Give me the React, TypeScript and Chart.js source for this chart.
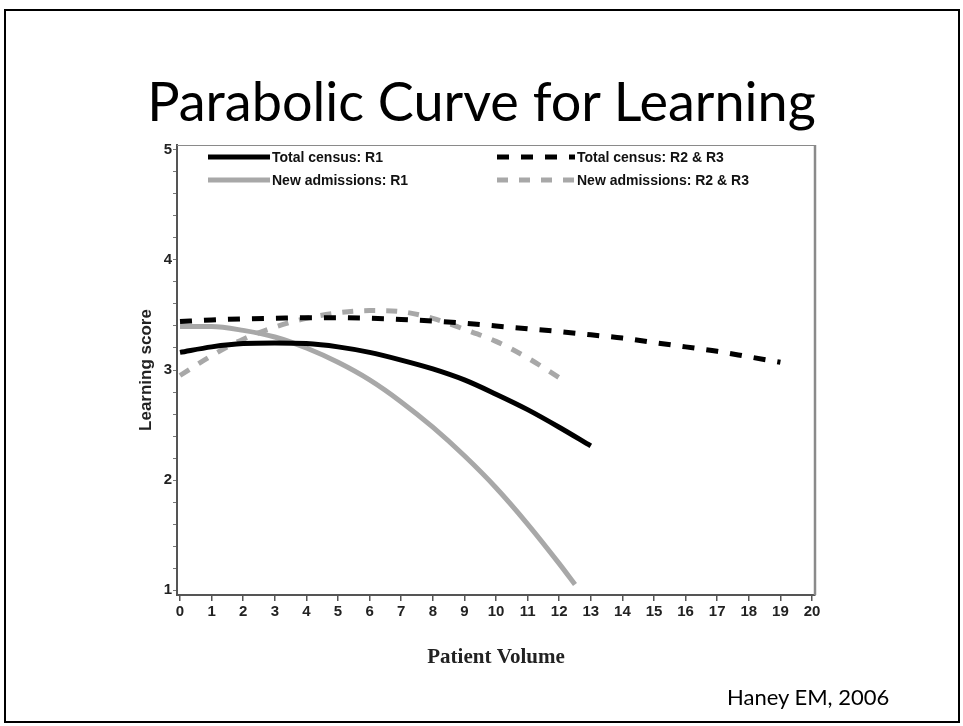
import React, { useEffect, useRef } from 'react';
import { Chart, registerables } from 'chart.js';

Chart.register(...registerables);

// ---- data ----
const totalR1X = [0, 1, 2, 3, 4, 5, 6, 7, 8, 9, 10, 11, 12, 13];
const totalR1Y = [3.16, 3.21, 3.24, 3.245, 3.24, 3.21, 3.16, 3.09, 3.01, 2.91, 2.78, 2.64, 2.48, 2.31];

const totalR23X = [0, 1, 2, 3, 4, 5, 6, 7, 8, 9, 10, 11, 12, 13, 14, 15, 16, 17, 18, 19];
const totalR23Y = [3.44, 3.455, 3.465, 3.47, 3.475, 3.475, 3.47, 3.46, 3.445, 3.425, 3.4, 3.375, 3.35, 3.32, 3.29, 3.25, 3.21, 3.17, 3.12, 3.07];

const newR1X = [0, 1, 2, 3, 4, 5, 6, 7, 8, 9, 10, 11, 12, 12.5];
const newR1Y = [3.395, 3.395, 3.36, 3.3, 3.2, 3.07, 2.91, 2.71, 2.48, 2.22, 1.93, 1.6, 1.24, 1.05];

const newR23X = [0, 1, 2, 3, 4, 5, 6, 7, 8, 9, 10, 11, 12];
const newR23Y = [2.95, 3.13, 3.28, 3.39, 3.47, 3.52, 3.54, 3.53, 3.47, 3.37, 3.26, 3.11, 2.93];

const seriesLabels = [
  'Total census: R1',
  'Total census: R2 & R3',
  'New admissions: R1',
  'New admissions: R2 & R3',
];

const xTickLabels = ['0', '1', '2', '3', '4', '5', '6', '7', '8', '9', '10', '11', '12', '13', '14', '15', '16', '17', '18', '19', '20'];
const yTickLabels = ['1', '2', '3', '4', '5'];

const slideTitle = 'Parabolic Curve for Learning';
const xTitle = 'Patient Volume';
const yTitle = 'Learning score';
const credit = 'Haney EM, 2006';

const toPoints = (xs: number[], ys: number[]) => xs.map((x, i) => ({ x, y: ys[i] }));

const BLACK = '#000000';
const GRAY = '#a8a8a8';
const SANS = '"Liberation Sans", Arial, sans-serif';

const insideLegend = {
  id: 'insideLegend',
  afterDatasetsDraw(chart: any) {
    const { ctx, chartArea } = chart;
    const cols = [
      { x: chartArea.left + 31, len: 62 },
      { x: chartArea.left + 320, len: 78 },
    ];
    const rows = [chartArea.top + 12, chartArea.top + 35];
    ctx.save();
    chart.data.datasets.forEach((ds: any, i: number) => {
      const c = cols[i % 2];
      const y = rows[Math.floor(i / 2)];
      ctx.beginPath();
      ctx.strokeStyle = ds.borderColor;
      ctx.lineWidth = ds.borderWidth;
      ctx.setLineDash(ds.borderDash || []);
      ctx.lineCap = 'butt';
      ctx.moveTo(c.x, y);
      ctx.lineTo(c.x + c.len, y);
      ctx.stroke();
      ctx.setLineDash([]);
      ctx.fillStyle = '#111';
      ctx.font = `bold 14px ${SANS}`;
      ctx.textBaseline = 'middle';
      ctx.textAlign = 'left';
      ctx.fillText(ds.label, c.x + c.len + 2, y + 1);
    });
    ctx.restore();
  },
};

const frame = {
  id: 'frame',
  afterDraw(chart: any) {
    const { ctx, chartArea } = chart;
    ctx.save();
    ctx.strokeStyle = '#8a8a8a';
    ctx.lineWidth = 1.2;
    ctx.beginPath();
    ctx.moveTo(chartArea.left, chartArea.top + 0.5);
    ctx.lineTo(chartArea.right, chartArea.top + 0.5);
    ctx.stroke();
    ctx.lineWidth = 2.5;
    ctx.beginPath();
    ctx.moveTo(chartArea.right, chartArea.top);
    ctx.lineTo(chartArea.right, chartArea.bottom);
    ctx.stroke();
    ctx.restore();
  },
};

export default function App() {
  const ref = useRef<HTMLCanvasElement | null>(null);

  useEffect(() => {
    if (!ref.current) return;
    const mk = (i: number, xs: number[], ys: number[], color: string, dash: number[]) => ({
      label: seriesLabels[i],
      data: toPoints(xs, ys),
      borderColor: color,
      backgroundColor: color,
      borderWidth: 5,
      borderDash: dash,
      borderCapStyle: 'butt',
      pointRadius: 0,
      cubicInterpolationMode: 'monotone',
      fill: false,
    });
    const chart = new Chart(ref.current, {
      type: 'line',
      data: {
        datasets: [
          mk(0, totalR1X, totalR1Y, BLACK, []),
          mk(1, totalR23X, totalR23Y, BLACK, [12, 12]),
          mk(2, newR1X, newR1Y, GRAY, []),
          mk(3, newR23X, newR23Y, GRAY, [11, 11]),
        ] as any,
      },
      options: {
        animation: false,
        responsive: false,
        events: [],
        layout: { padding: { left: 136, top: 145, right: 148, bottom: 56 } },
        plugins: { legend: { display: false }, tooltip: { enabled: false }, title: { display: false } },
        scales: {
          x: {
            type: 'linear',
            min: -0.095,
            max: 20.095,
            afterBuildTicks: (s: any) => {
              s.ticks = xTickLabels.map((t) => ({ value: Number(t) }));
            },
            ticks: {
              autoSkip: false,
              maxRotation: 0,
              padding: 2,
              color: '#222',
              font: { family: SANS, size: 15, weight: 'bold' },
              callback: (v: any) => String(v),
            },
            grid: { drawOnChartArea: false, drawTicks: true, tickLength: 6, color: '#555', lineWidth: 1.5 },
            border: { display: true, color: '#555', width: 2 },
            title: {
              display: true,
              text: xTitle,
              color: '#222',
              padding: 0,
              font: { family: '"Liberation Serif", "Times New Roman", serif', size: 21, weight: 'bold' },
            },
            afterFit: (s: any) => {
              s.height = 75;
            },
          },
          y: {
            type: 'linear',
            min: 0.955,
            max: 5.045,
            afterBuildTicks: (s: any) => {
              const t: { value: number }[] = [];
              for (let k = 0; k <= 20; k++) t.push({ value: Math.round((1 + k * 0.2) * 100) / 100 });
              s.ticks = t;
            },
            ticks: {
              autoSkip: false,
              padding: 1,
              color: '#222',
              font: { family: SANS, size: 15, weight: 'bold' },
              callback: (v: any) => {
                const s = String(Math.round(v * 100) / 100);
                return yTickLabels.includes(s) ? s : '';
              },
            },
            grid: { drawOnChartArea: false, drawTicks: true, tickLength: 4, color: '#777', lineWidth: 1 },
            border: { display: true, color: '#555', width: 2 },
            title: {
              display: true,
              text: yTitle,
              color: '#222',
              padding: 0,
              font: { family: SANS, size: 17, weight: 'bold' },
            },
            afterFit: (s: any) => {
              s.width = 41;
            },
          },
        },
      } as any,
      plugins: [insideLegend, frame],
    });
    return () => chart.destroy();
  }, []);

  return (
    <div style={{ position: 'fixed', left: 0, top: 0, width: 963, height: 726, background: '#fff', overflow: 'hidden' }}>
      <div
        style={{
          position: 'absolute',
          left: 4,
          top: 9,
          width: 956,
          height: 714,
          border: '2px solid #000',
          boxSizing: 'border-box',
        }}
      />
      <div
        style={{
          position: 'absolute',
          left: 0,
          top: 66,
          width: 963,
          textAlign: 'center',
          fontFamily: 'Lato, "Open Sans", sans-serif',
          fontSize: 54,
          lineHeight: '70px',
          color: '#000',
          whiteSpace: 'nowrap',
        }}
      >
        {slideTitle}
      </div>
      <canvas ref={ref} width={963} height={726} style={{ position: 'absolute', left: 0, top: 0, display: 'block' }} />
      <div
        style={{
          position: 'absolute',
          left: 727,
          top: 683,
          fontFamily: 'Lato, "Open Sans", sans-serif',
          fontSize: 22,
          lineHeight: '28px',
          color: '#000',
          whiteSpace: 'nowrap',
        }}
      >
        {credit}
      </div>
    </div>
  );
}
